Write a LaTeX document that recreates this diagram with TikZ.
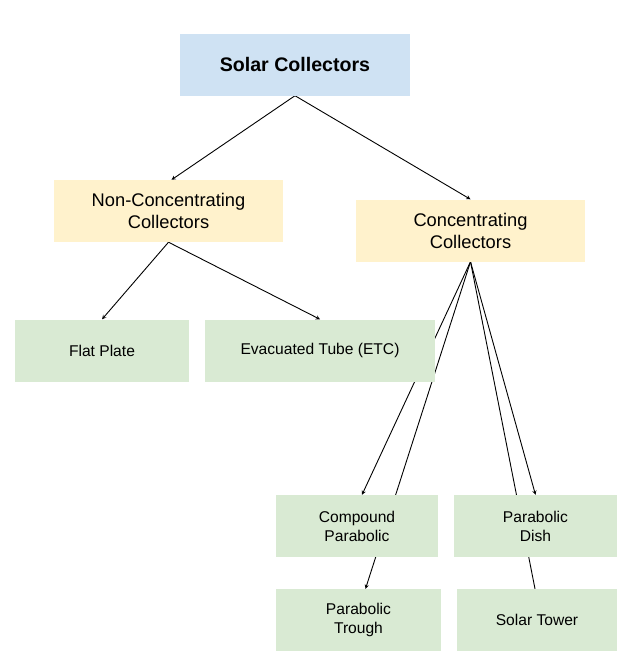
\documentclass[tikz,border=0pt]{standalone}
\usepackage{fontspec}
\setmainfont{Liberation Sans}
\usetikzlibrary{shapes,arrows,positioning,backgrounds}
\definecolor{topblue}{HTML}{CFE2F3}
\definecolor{midyellow}{HTML}{FFF2CC}
\definecolor{leafgreen}{HTML}{D9EAD3}
\tikzstyle{box} = [rectangle, inner sep=0pt, align=center, minimum height=62pt]
\tikzstyle{rootbox} = [box, fill=topblue, minimum width=230pt,
    font=\fontsize{19.6}{24}\selectfont\bfseries]
\tikzstyle{groupbox} = [box, fill=midyellow, minimum width=229pt,
    font=\fontsize{18.3}{22}\selectfont]
\tikzstyle{leafbox} = [box, fill=leafgreen, font=\fontsize{15.6}{19}\selectfont]
\tikzstyle{arrow} = [line width=0.9pt,->,>=stealth]
\tikzstyle{line} = [line width=0.9pt]

\begin{document}
\begin{tikzpicture}[x=1pt, y=-1pt]
\useasboundingbox (0,0) rectangle (632,670);
\node[rootbox] (solar) at (295,64.5) {Solar Collectors};
\node[groupbox] (noncon) at (168.5,211) {Non-Concentrating\\Collectors};
\node[groupbox] (con) at (470.5,230.5) {Concentrating\\Collectors};
\node[leafbox, minimum width=174pt] (flat) at (102,350.5) {Flat Plate};
\node[leafbox, minimum width=230pt] (etc) at (320,350.5) {Evacuated Tube (ETC)};
\node[leafbox, minimum width=162pt] (cpc) at (357,526) {Compound\\Parabolic};
\node[leafbox, minimum width=163pt] (dish) at (535.5,526) {Parabolic\\Dish};
\node[leafbox, minimum width=165pt] (trough) at (358.5,620) {Parabolic\\Trough};
\node[leafbox, minimum width=160pt] (tower) at (537,620) {Solar Tower};
\begin{pgfonlayer}{background}
\fill[white] (0,0) rectangle (632,670);
\draw[arrow] (solar.south) -- ([xshift=3pt]noncon.north);
\draw[arrow] (solar.south) -- (con.north);
\draw[arrow] (noncon.south) -- (flat.north);
\draw[arrow] (noncon.south) -- (etc.north);
\draw[arrow] (con.south) -- ([xshift=5pt]cpc.north);
\draw[arrow] (con.south) -- ([xshift=7pt]trough.north);
\draw[arrow] (con.south) -- (dish.north);
\draw[line] (con.south) -- ([xshift=-2pt]tower.north);
\end{pgfonlayer}
\end{tikzpicture}
\end{document}
